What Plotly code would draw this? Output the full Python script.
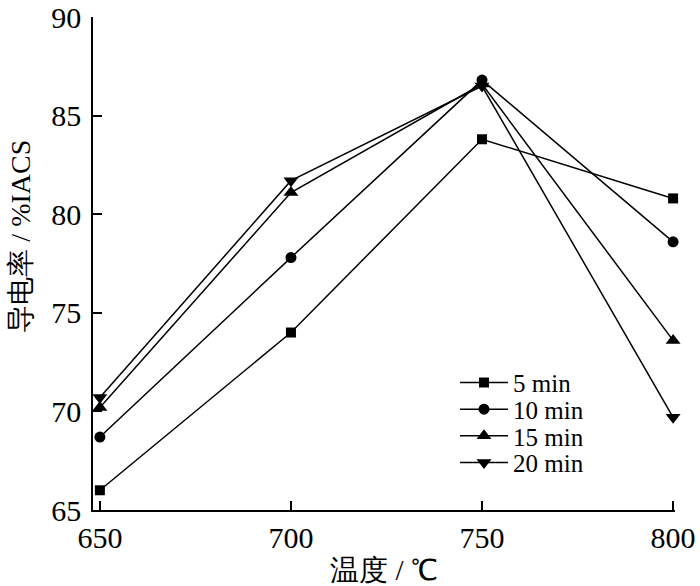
import plotly.graph_objects as go

# temperature (degC) vs conductivity (%IACS) for each holding time
temps = [650, 700, 750, 800]
cond_5min = [66.0, 74.0, 83.8, 80.8]
cond_10min = [68.7, 77.8, 86.8, 78.6]
cond_15min = [70.2, 81.1, 86.6, 73.6]
cond_20min = [70.7, 81.7, 86.5, 69.7]

series = [
    ("5 min", cond_5min, "square", 10),
    ("10 min", cond_10min, "circle", 11),
    ("15 min", cond_15min, "triangle-up", 13),
    ("20 min", cond_20min, "triangle-down", 13),
]

serif = "Liberation Serif"

fig = go.Figure()
# one legend per entry so the rows can sit as tight as in the paper figure
leg_y = [0.258, 0.204, 0.150, 0.096]
for i, (name, vals, sym, sz) in enumerate(series):
    lg = "legend" if i == 0 else "legend%d" % (i + 1)
    fig.add_trace(go.Scatter(
        x=temps, y=vals, name=name, mode="lines+markers",
        line=dict(color="black", width=1.5),
        marker=dict(symbol=sym, size=sz, color="black"),
        cliponaxis=False, legend=lg,
    ))
    fig.update_layout({lg: dict(
        x=0.622, y=leg_y[i], xanchor="left", yanchor="middle",
        bgcolor="rgba(0,0,0,0)", font=dict(size=25, family=serif),
        itemwidth=48,
    )})

fig.update_layout(
    width=700, height=586, autosize=False,
    margin=dict(l=93, r=25, t=17, b=76),
    paper_bgcolor="white", plot_bgcolor="white",
    font=dict(family=serif, size=30, color="black"),
    showlegend=True,
)
fig.update_xaxes(
    range=[648.2, 800.5], tickvals=temps,
    showline=True, linecolor="black", linewidth=1.5,
    ticks="inside", ticklen=9, tickwidth=1.5, tickcolor="black",
    showgrid=False, zeroline=False, automargin=False,
    title=dict(text="温度 / ℃", font=dict(size=29, family=serif), standoff=8),
)
fig.update_yaxes(
    range=[65, 90], tickvals=[65, 70, 75, 80, 85, 90],
    showline=True, linecolor="black", linewidth=1.5,
    ticks="inside", ticklen=9, tickwidth=1.5, tickcolor="black",
    ticklabelstandoff=4,
    showgrid=False, zeroline=False, automargin=False,
)
# y title sits a bit above the plot centre in the original
fig.add_annotation(
    text="导电率 / %IACS", textangle=-90, showarrow=False,
    xref="paper", yref="paper", x=-0.125, y=0.555,
    xanchor="center", yanchor="middle",
    font=dict(size=28, family=serif),
)

fig.write_html("out.html", config={"displayModeBar": False},
               post_script="document.body.style.margin='0';")
